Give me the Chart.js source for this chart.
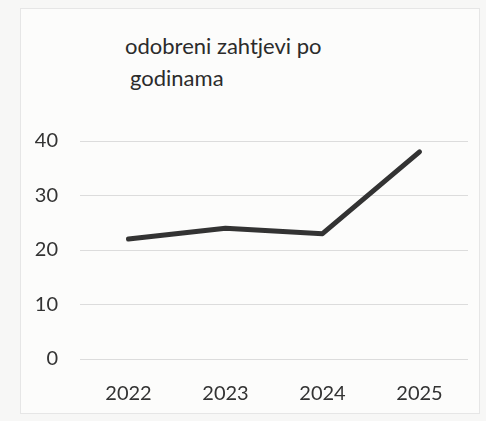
<!DOCTYPE html>
<html>
<head>
<meta charset="utf-8">
<script src="https://cdn.jsdelivr.net/npm/chart.js@4.4.1/dist/chart.umd.min.js"></script>
<style>
  body { margin: 0; background: #f7f7f6; }
  #okvir { position: relative; width: 486px; height: 421px; }
  #rub { position: absolute; left: 20px; top: 8px; width: 458px; height: 404px; border: 1px solid #e6e6e6; background: #fcfcfb; }
  #naslov { position: absolute; left: 125px; top: 30px; font-family: Lato, "Open Sans", sans-serif; font-size: 22px; line-height: 32px; color: #2b2b2b; }
  #naslov span { display: block; }
  canvas { position: absolute; left: 0; top: 0; }
</style>
</head>
<body>
<div id="okvir">
  <div id="rub"></div>
  <div id="naslov"><span>odobreni zahtjevi po</span><span style="padding-left:5px">godinama</span></div>
  <canvas id="grafica" width="486" height="421"></canvas>
</div>
<script>
const godine = ["2022", "2023", "2024", "2025"];
const odobreni = [22, 24, 23, 38];
const yTicks = [0, 10, 20, 30, 40];

const ctx = document.getElementById('grafica');

new Chart(ctx, {
  type: 'line',
  data: {
    labels: godine,
    datasets: [{
      label: 'odobreni zahtjevi po godinama',
      data: odobreni,
      borderColor: '#333333',
      borderWidth: 5,
      pointRadius: 0,
      tension: 0,
      borderCapStyle: 'round',
      borderJoinStyle: 'round'
    }]
  },
  options: {
    responsive: false,
    animation: false,
    layout: { padding: { left: 20, right: 18, top: 141, bottom: 0 } },
    plugins: {
      legend: { display: false },
      title: { display: false },
      tooltip: { enabled: false }
    },
    scales: {
      x: {
        offset: true,
        grid: { display: false },
        border: { display: false },
        ticks: {
          padding: 15,
          color: '#333',
          font: { family: 'Lato, "Open Sans", sans-serif', size: 20 }
        },
        afterFit: s => { s.height = 62; }
      },
      y: {
        min: 0,
        max: 40,
        afterBuildTicks: s => { s.ticks = yTicks.map(v => ({ value: v })); },
        grid: { color: '#dcdcdc', lineWidth: 1, drawTicks: false },
        border: { display: false },
        ticks: {
          padding: 22,
          color: '#333',
          font: { family: 'Lato, "Open Sans", sans-serif', size: 20 }
        },
        afterFit: s => { s.width = 60; }
      }
    }
  }
});
</script>
</body>
</html>
